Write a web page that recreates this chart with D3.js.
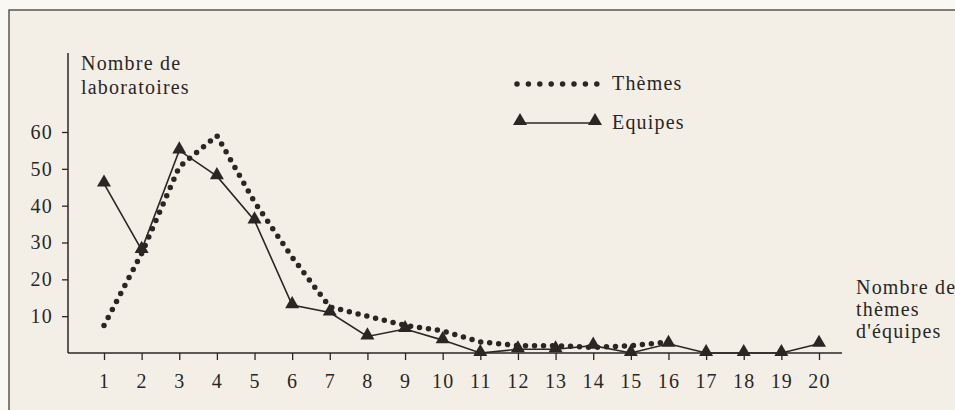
<!DOCTYPE html>
<html>
<head>
<meta charset="utf-8">
<script src="https://cdn.jsdelivr.net/npm/d3@7"></script>
<style>
  body { margin: 0; background: #faf8f3; }
  svg { display: block; }
  text { font-family: "Liberation Serif", "DejaVu Serif", serif; fill: #2a2624; letter-spacing: 1.2px; }
</style>
</head>
<body>
<div id="chart"></div>
<script>
const width = 955;
const height = 410;

// data
const categories = d3.range(1, 21);
const equipes = [46, 28, 55, 48, 36, 13, 11, 4.5, 6.5, 3.5, 0, 1, 1, 2, 0, 2.5, 0, 0, 0, 2.5];
const themes = [7.5, 27, 50.5, 59, 41, 26, 12.5, 10, 7.5, 6, 3, 2, 2, 1.5, 2, 3];
const yTicks = [10, 20, 30, 40, 50, 60];

const ink = '#2a2624';
const fontSize = 20;

const svg = d3.select('#chart')
  .append('svg')
  .attr('width', width)
  .attr('height', height);

// paper + frame
svg.append('rect')
  .attr('x', 9).attr('y', 10)
  .attr('width', width).attr('height', height)
  .attr('fill', '#f3efe7')
  .attr('stroke', '#5a5654')
  .attr('stroke-width', 1.5);

const xScale = d3.scaleLinear().domain([1, 20]).range([104, 819]);
const yScale = d3.scaleLinear().domain([0, 60]).range([353, 132]);

// x axis
const xAxis = svg.append('g')
  .attr('transform', `translate(0, ${yScale(0)})`)
  .call(d3.axisBottom(xScale).tickValues(categories).tickFormat(d3.format('d')).tickSize(7));
xAxis.select('.domain').remove();
xAxis.selectAll('.tick text').attr('y', 35).attr('dy', 0);
xAxis.append('line')
  .attr('x1', 68).attr('x2', 842)
  .attr('stroke', ink).attr('stroke-width', 1.5);

// y axis
const yAxis = svg.append('g')
  .attr('transform', 'translate(68, 0)')
  .call(d3.axisLeft(yScale).tickValues(yTicks).tickSize(6).tickPadding(9));
yAxis.select('.domain').remove();
yAxis.append('line')
  .attr('y1', 53).attr('y2', yScale(0))
  .attr('stroke', ink).attr('stroke-width', 1.5);

svg.selectAll('.tick line').attr('stroke', ink).attr('stroke-width', 1.3);
svg.selectAll('.tick text')
  .attr('font-size', fontSize)
  .attr('fill', ink)
  .style('font-family', '"Liberation Serif", serif');

// axis titles
const yTitle = svg.append('text').attr('font-size', fontSize);
yTitle.append('tspan').attr('x', 81).attr('y', 70).text('Nombre de');
yTitle.append('tspan').attr('x', 81).attr('y', 94).text('laboratoires');

const xTitle = svg.append('text').attr('font-size', fontSize);
['Nombre de', 'thèmes', "d'équipes"].forEach((t, i) => {
  xTitle.append('tspan').attr('x', 856).attr('y', 294 + i * 22).text(t);
});

// Thèmes: dotted line
const lineThemes = d3.line()
  .x((d, i) => xScale(categories[i]))
  .y((d) => yScale(d));

svg.append('path')
  .datum(themes)
  .attr('d', lineThemes)
  .attr('fill', 'none')
  .attr('stroke', ink)
  .attr('stroke-width', 5.5)
  .attr('stroke-linecap', 'round')
  .attr('stroke-dasharray', '0 9');

// Equipes: solid line with triangles
const lineEquipes = d3.line()
  .x((d, i) => xScale(categories[i]))
  .y((d) => yScale(d));

svg.append('path')
  .datum(equipes)
  .attr('d', lineEquipes)
  .attr('fill', 'none')
  .attr('stroke', ink)
  .attr('stroke-width', 1.6);

const tri = d3.symbol().type(d3.symbolTriangle).size(85);

svg.append('g')
  .selectAll('path')
  .data(equipes)
  .join('path')
  .attr('d', tri)
  .attr('transform', (d, i) => `translate(${xScale(categories[i])}, ${yScale(d) - 1})`)
  .attr('fill', ink);

// legend
const legend = svg.append('g');
legend.append('line')
  .attr('x1', 517).attr('x2', 597).attr('y1', 84).attr('y2', 84)
  .attr('stroke', ink).attr('stroke-width', 5.5)
  .attr('stroke-linecap', 'round').attr('stroke-dasharray', '0 11.4');
legend.append('text').attr('x', 612).attr('y', 90).attr('font-size', fontSize).text('Thèmes');

legend.append('line')
  .attr('x1', 520).attr('x2', 595).attr('y1', 123).attr('y2', 123)
  .attr('stroke', ink).attr('stroke-width', 1.6);
legend.selectAll('path.lt')
  .data([520, 595])
  .join('path')
  .attr('class', 'lt')
  .attr('d', tri)
  .attr('transform', (d) => `translate(${d}, 121)`)
  .attr('fill', ink);
legend.append('text').attr('x', 612).attr('y', 129).attr('font-size', fontSize).text('Equipes');
</script>
</body>
</html>
